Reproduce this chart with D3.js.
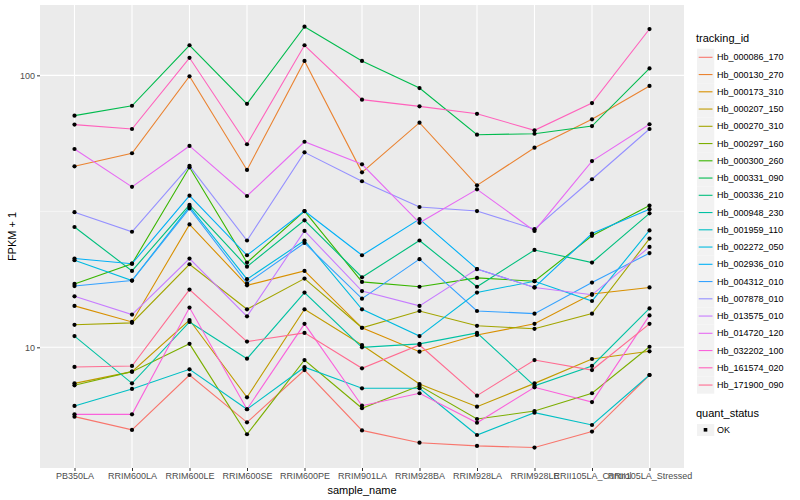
<!DOCTYPE html>
<html>
<head>
<meta charset="utf-8">
<script src="https://cdn.jsdelivr.net/npm/d3@7"></script>
<style>
  body { margin: 0; background: #fff; }
  text { font-family: "Liberation Sans", Arial, sans-serif; }
</style>
</head>
<body>
<svg width="800" height="500"></svg>
<script>
var samples = ["PB350LA", "RRIM600LA", "RRIM600LE", "RRIM600SE", "RRIM600PE", "RRIM901LA",
               "RRIM928BA", "RRIM928LA", "RRIM928LE", "RRII105LA_Control", "RRII105LA_Stressed"]

var trackingIds = ["Hb_000086_170", "Hb_000130_270", "Hb_000173_310", "Hb_000207_150", "Hb_000270_310",
                   "Hb_000297_160", "Hb_000300_260", "Hb_000331_090", "Hb_000336_210", "Hb_000948_230",
                   "Hb_001959_110", "Hb_002272_050", "Hb_002936_010", "Hb_004312_010", "Hb_007878_010",
                   "Hb_013575_010", "Hb_014720_120", "Hb_032202_100", "Hb_161574_020", "Hb_171900_090"]

// FPKM + 1, one array per tracking_id, in sample order
var hb000086 = [5.56, 4.97, 7.91, 5.30, 8.25, 4.95, 4.46, 4.34, 4.28, 4.90, 7.91]
var hb000130 = [46.3, 51.7, 99.2, 44.9, 113, 44.0, 67.0, 39.4, 54.2, 68.9, 91.4]
var hb000173 = [14.2, 12.4, 28.3, 16.9, 19.1, 11.8, 9.64, 11.1, 12.2, 15.7, 16.6]
var hb000207 = [7.37, 8.14, 12.6, 6.55, 13.8, 10.2, 7.33, 6.05, 7.37, 9.06, 9.67]
var hb000270 = [12.1, 12.3, 20.2, 13.8, 17.9, 11.8, 13.6, 12.0, 11.7, 13.3, 25.1]
var hb000297 = [7.25, 8.14, 10.3, 4.79, 8.98, 5.97, 7.22, 5.45, 5.83, 6.78, 10.05]
var hb000300 = [17.1, 20.3, 45.9, 20.5, 31.7, 17.4, 16.7, 18.0, 17.5, 25.7, 33.2]
var hb000331 = [71.1, 77.3, 129, 78.6, 151, 113, 89.8, 60.5, 61.0, 65.1, 106]
var hb000336 = [27.7, 19.1, 33.4, 19.8, 29.3, 18.1, 24.7, 16.7, 22.8, 20.5, 31.1]
var hb000948 = [11.0, 7.37, 12.4, 9.08, 15.9, 10.0, 10.3, 11.3, 7.22, 8.54, 13.9]
var hb001959 = [6.09, 7.03, 8.30, 5.92, 8.45, 7.07, 7.07, 4.76, 5.75, 5.18, 7.91]
var hb002272 = [20.9, 17.6, 32.9, 17.8, 24.7, 13.8, 11.0, 15.9, 17.5, 14.8, 26.9]
var hb002936 = [21.2, 20.3, 36.1, 21.8, 31.7, 21.8, 29.6, 19.4, 16.6, 26.2, 32.2]
var hb004312 = [16.8, 17.6, 32.4, 17.2, 24.2, 15.1, 21.1, 13.6, 13.3, 17.3, 22.2]
var hb007878 = [31.4, 26.6, 46.5, 24.7, 52.1, 40.8, 32.8, 31.7, 27.2, 41.5, 63.5]
var hb013575 = [15.4, 13.2, 21.2, 13.0, 26.8, 16.1, 14.2, 19.4, 16.6, 15.6, 23.4]
var hb014720 = [53.6, 38.9, 55.0, 36.0, 57.0, 47.1, 28.7, 38.1, 26.8, 48.4, 66.1]
var hb032202 = [5.67, 5.67, 14.0, 5.92, 12.2, 6.10, 6.78, 5.28, 7.13, 6.29, 13.1]
var hb161574 = [65.9, 63.5, 116, 55.8, 129, 81.4, 76.9, 72.2, 62.8, 79.1, 148]
var hb171900 = [8.47, 8.54, 16.3, 10.5, 11.3, 8.37, 10.2, 6.64, 8.98, 8.25, 12.2]

var yTicks = [10, 100]
var yTickLabels = ["10", "100"]
var quantLevels = ["OK"]

var seriesValues = [hb000086, hb000130, hb000173, hb000207, hb000270, hb000297, hb000300, hb000331,
                    hb000336, hb000948, hb001959, hb002272, hb002936, hb004312, hb007878, hb013575,
                    hb014720, hb032202, hb161574, hb171900]

// ggplot default hue palette for 20 levels
var colores = ["#F8766D", "#EA8331", "#D89000", "#C09B00", "#A3A500", "#7CAE00", "#39B600", "#00BB4E",
               "#00BF7D", "#00C1A3", "#00BFC4", "#00BAE0", "#00B0F6", "#35A2FF", "#9590FF", "#C77CFF",
               "#E76BF3", "#FA62DB", "#FF62BC", "#FF6C91"]

var series = trackingIds.map(function(id, i) {
    return { id: id, values: seriesValues[i].map(function(v, j) { return { sample: samples[j], v: v } }) }
})

var svg = d3.select("svg"),
    panel = { left: 40, right: 684, top: 5, bottom: 468 }

var x = d3.scalePoint().domain(samples).range([panel.left, panel.right]).padding(0.6)
var y = d3.scaleLog().domain([3.6, 181.4]).range([panel.bottom, panel.top])
var color = d3.scaleOrdinal().domain(trackingIds).range(colores)

// panel
svg.append("rect")
    .attr("x", panel.left).attr("y", panel.top)
    .attr("width", panel.right - panel.left).attr("height", panel.bottom - panel.top)
    .attr("fill", "#EBEBEB")

// minor grid (midway in log space)
var minor = [Math.sqrt(10), Math.sqrt(1000), Math.sqrt(100000)].filter(function(d) {
    return d > y.domain()[0] && d < y.domain()[1]
})
svg.append("g").selectAll("line").data(minor).enter().append("line")
    .attr("x1", panel.left).attr("x2", panel.right)
    .attr("y1", function(d) { return y(d) }).attr("y2", function(d) { return y(d) })
    .attr("stroke", "#fff").attr("stroke-width", 0.55)

// major grid
svg.append("g").selectAll("line").data(yTicks).enter().append("line")
    .attr("x1", panel.left).attr("x2", panel.right)
    .attr("y1", function(d) { return y(d) }).attr("y2", function(d) { return y(d) })
    .attr("stroke", "#fff").attr("stroke-width", 1.1)
svg.append("g").selectAll("line").data(samples).enter().append("line")
    .attr("y1", panel.top).attr("y2", panel.bottom)
    .attr("x1", function(d) { return x(d) }).attr("x2", function(d) { return x(d) })
    .attr("stroke", "#fff").attr("stroke-width", 1.1)

// lines
var line = d3.line()
    .x(function(d) { return x(d.sample) })
    .y(function(d) { return y(d.v) })

svg.append("g").selectAll("path").data(series).enter().append("path")
    .attr("d", function(d) { return line(d.values) })
    .attr("fill", "none")
    .attr("stroke", function(d) { return color(d.id) })
    .attr("stroke-width", 1.1)

// points
var allPts = []
series.forEach(function(s) { s.values.forEach(function(p) { allPts.push(p) }) })
svg.append("g").selectAll("circle").data(allPts).enter().append("circle")
    .attr("cx", function(d) { return x(d.sample) })
    .attr("cy", function(d) { return y(d.v) })
    .attr("r", 2.1)
    .attr("fill", "#000")

// axes
var yAxis = d3.axisLeft(y).tickValues(yTicks)
    .tickFormat(function(d, i) { return yTickLabels[i] })
    .tickSize(3).tickPadding(2)
var gy = svg.append("g").attr("transform", "translate(" + panel.left + ",0)").call(yAxis)
gy.select(".domain").remove()
gy.selectAll("line").attr("stroke", "#333").attr("stroke-width", 1)
gy.selectAll("text").attr("fill", "#4D4D4D").attr("font-size", "9px")
    .style("font-family", "Liberation Sans, Arial, sans-serif")

var xAxis = d3.axisBottom(x).tickSize(3).tickPadding(2)
var gx = svg.append("g").attr("transform", "translate(0," + panel.bottom + ")").call(xAxis)
gx.select(".domain").remove()
gx.selectAll("line").attr("stroke", "#333").attr("stroke-width", 1)
gx.selectAll("text").attr("fill", "#4D4D4D").attr("font-size", "9px")
    .style("font-family", "Liberation Sans, Arial, sans-serif")

// axis titles
svg.append("text")
    .attr("x", (panel.left + panel.right) / 2).attr("y", 494)
    .attr("text-anchor", "middle").attr("font-size", "11px")
    .text("sample_name")
svg.append("text")
    .attr("transform", "translate(16," + ((panel.top + panel.bottom) / 2) + ") rotate(-90)")
    .attr("text-anchor", "middle").attr("font-size", "11px")
    .text("FPKM + 1")

// legend: tracking_id
var lg = svg.append("g").attr("transform", "translate(697,0)")
lg.append("text").attr("x", -1).attr("y", 42).attr("font-size", "11px").text("tracking_id")
var keys = lg.selectAll("g.key").data(trackingIds).enter().append("g")
    .attr("class", "key")
    .attr("transform", function(d, i) { return "translate(0," + (48.7 + i * 17.25) + ")" })
keys.append("rect").attr("width", 17.25).attr("height", 17.25).attr("fill", "#F2F2F2")
keys.append("line")
    .attr("x1", 1.7).attr("x2", 15.5).attr("y1", 8.6).attr("y2", 8.6)
    .attr("stroke", function(d) { return color(d) }).attr("stroke-width", 1.1)
keys.append("text")
    .attr("x", 20).attr("y", 8.6).attr("dy", "0.35em")
    .attr("font-size", "9px")
    .text(function(d) { return d })

// legend: quant_status
var lq = svg.append("g").attr("transform", "translate(697,0)")
lq.append("text").attr("x", -1).attr("y", 417).attr("font-size", "11px").text("quant_status")
var qk = lq.selectAll("g.qkey").data(quantLevels).enter().append("g")
    .attr("class", "qkey")
    .attr("transform", function(d, i) { return "translate(0," + (424 + i * 17.25) + ")" })
qk.append("rect").attr("width", 17.25).attr("height", 12).attr("fill", "#F2F2F2")
qk.append("rect").attr("x", 6.7).attr("y", 4).attr("width", 3.6).attr("height", 3.6).attr("fill", "#000")
qk.append("text").attr("x", 20).attr("y", 6).attr("dy", "0.35em").attr("font-size", "9px")
    .text(function(d) { return d })
</script>
</body>
</html>
